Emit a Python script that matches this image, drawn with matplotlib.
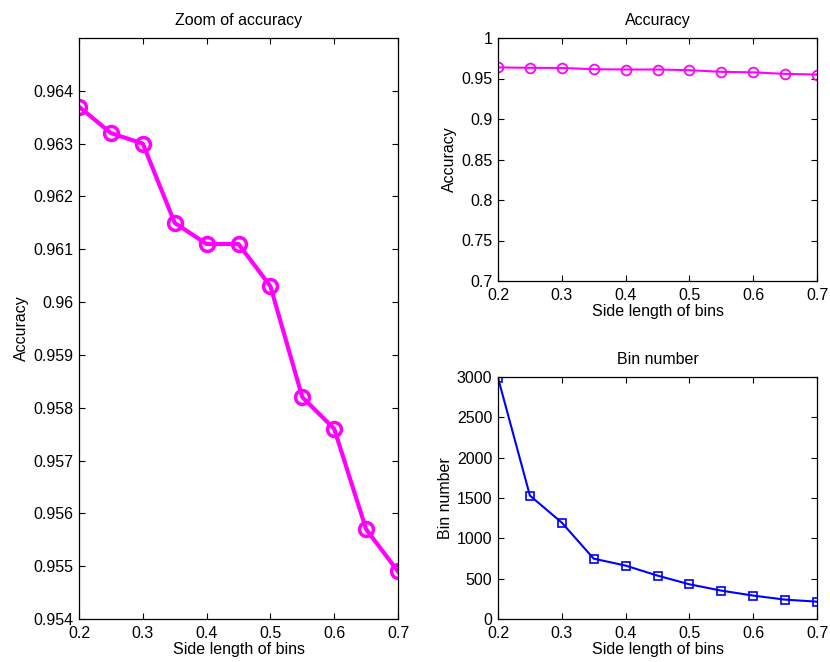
import numpy as np
import matplotlib
matplotlib.use("Agg")
import matplotlib.pyplot as plt

plt.rcParams['font.family'] = ['Liberation Sans', 'DejaVu Sans']
plt.rcParams['font.size'] = 11.5

side = [0.2, 0.25, 0.3, 0.35, 0.4, 0.45, 0.5, 0.55, 0.6, 0.65, 0.7]
accuracy = [0.9637, 0.9632, 0.9630, 0.9615, 0.9611, 0.9611, 0.9603,
            0.9582, 0.9576, 0.9557, 0.9549]
bin_number = [2990, 1530, 1195, 748, 662, 538, 430, 352, 290, 240, 215]

xticks = [0.2, 0.3, 0.4, 0.5, 0.6, 0.7]
xticklabels = ['0.2', '0.3', '0.4', '0.5', '0.6', '0.7']
zoom_yticks = [0.954, 0.955, 0.956, 0.957, 0.958, 0.959, 0.96,
               0.961, 0.962, 0.963, 0.964]
zoom_ylabels = ['0.954', '0.955', '0.956', '0.957', '0.958', '0.959', '0.96',
                '0.961', '0.962', '0.963', '0.964']
acc_yticks = [0.7, 0.75, 0.8, 0.85, 0.9, 0.95, 1.0]
acc_ylabels = ['0.7', '0.75', '0.8', '0.85', '0.9', '0.95', '1']
bin_yticks = [0, 500, 1000, 1500, 2000, 2500, 3000]

W, H = 830, 662
fig = plt.figure(figsize=(W / 100, H / 100), dpi=100)


def box(l, t, r, b):
    return [l / W, (H - b) / H, (r - l) / W, (b - t) / H]


def style(ax):
    ax.tick_params(direction='in', top=True, right=True, length=4,
                   width=0.8, pad=4)
    ax.tick_params(axis='x', pad=5)
    for s in ax.spines.values():
        s.set_linewidth(0.9)
    ax.set_xlim(0.2, 0.7)
    ax.set_xticks(xticks)
    ax.set_xticklabels(xticklabels)
    ax.set_xlabel('Side length of bins', labelpad=0.5)


# zoomed accuracy
ax1 = fig.add_axes(box(79, 38, 398, 619))
ax1.plot(side, accuracy, color='#ff00ff', lw=3, marker='o', ms=10,
         mfc='none', mew=2.5)
ax1.set_ylim(0.954, 0.965)
ax1.set_yticks(zoom_yticks)
ax1.set_yticklabels(zoom_ylabels)
ax1.set_ylabel('Accuracy', labelpad=3)
ax1.set_title('Zoom of accuracy', fontsize=11.5, pad=9)
style(ax1)

# full accuracy
ax2 = fig.add_axes(box(498, 38, 817, 281))
ax2.plot(side, accuracy, color='#ff00ff', lw=1.5, marker='o', ms=7,
         mfc='none', mew=1.3)
ax2.set_ylim(0.7, 1.0)
ax2.set_yticks(acc_yticks)
ax2.set_yticklabels(acc_ylabels)
ax2.set_ylabel('Accuracy', labelpad=3)
ax2.set_title('Accuracy', fontsize=11.5, pad=9)
style(ax2)

# number of bins
ax3 = fig.add_axes(box(498, 377, 817, 619))
ax3.plot(side, bin_number, color='#0000ff', lw=1.5, marker='s', ms=6,
         mfc='none', mew=1.2)
ax3.set_ylim(0, 3000)
ax3.set_yticks(bin_yticks)
ax3.set_ylabel('Bin number', labelpad=3)
ax3.set_title('Bin number', fontsize=11.5, pad=9)
style(ax3)

fig.savefig('out.png', dpi=100)
